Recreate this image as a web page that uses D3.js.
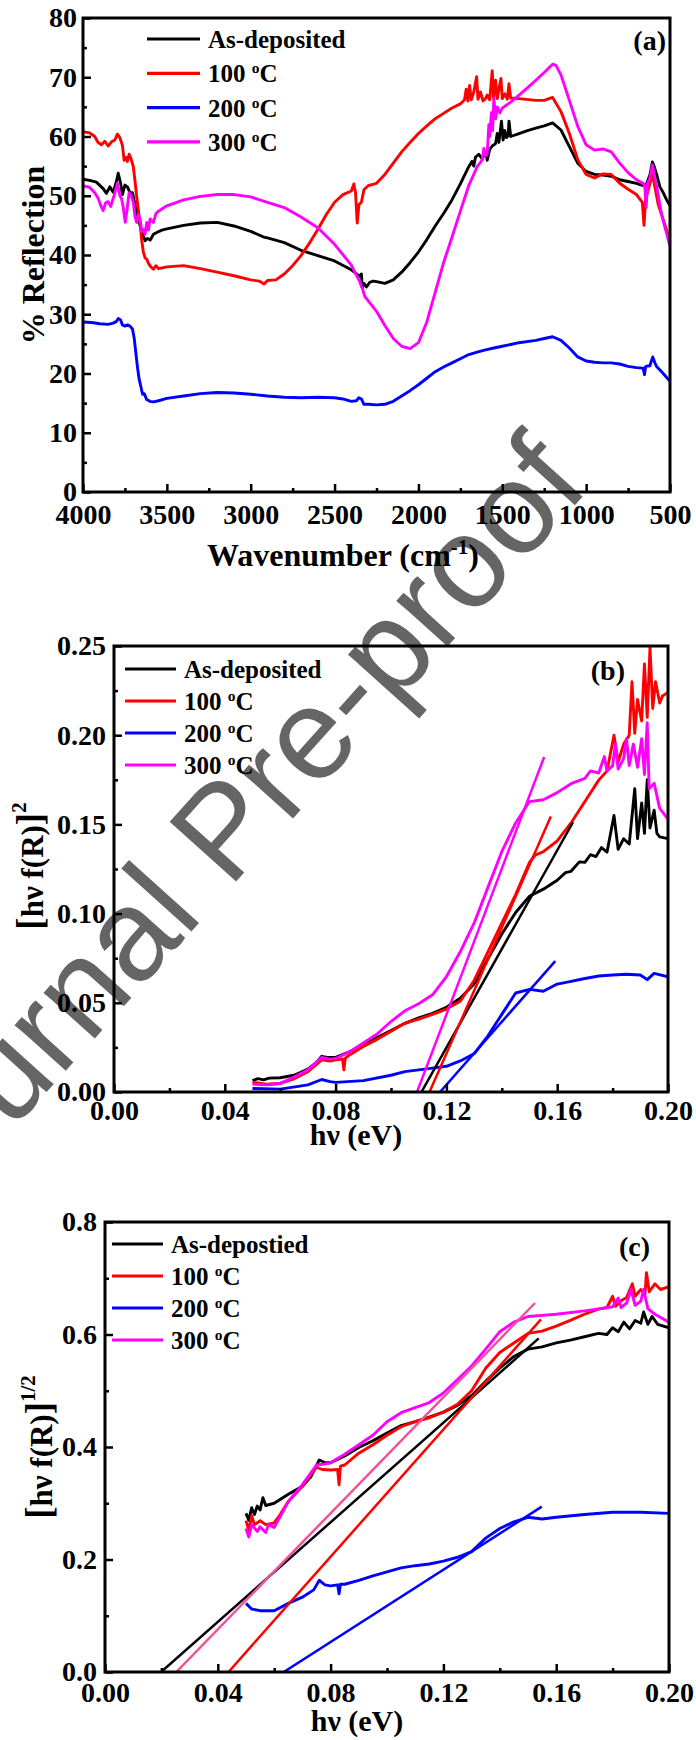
<!DOCTYPE html>
<html>
<head>
<meta charset="utf-8">
<script src="https://cdn.jsdelivr.net/npm/d3@7"></script>
<style>
  html, body { margin: 0; padding: 0; background: #fff; }
  svg { display: block; }
  text { font-family: "Liberation Serif", "Times New Roman", serif; font-weight: bold; fill: #000; }
</style>
</head>
<body>
<svg id="fig" width="696" height="1740"></svg>
<script>
// ---------- Series labels and colours ----------
const legendLabels = ["As-deposited", "100 °C", "200 °C", "300 °C"];
const legendLabelsC = ["As-depostied", "100 °C", "200 °C", "300 °C"];
const seriesColors = ["#000000", "#ff0000", "#0000ff", "#ff00ff"];
const fitColorsC = ["#000000", "#ff0000", "#0000ff", "#f0529c"];

// ---------- Tick values ----------
const xTicksA = [4000, 3500, 3000, 2500, 2000, 1500, 1000, 500];
const yTicksA = [0, 10, 20, 30, 40, 50, 60, 70, 80];
const xTicksBC = [0, 0.04, 0.08, 0.12, 0.16, 0.20];
const yTicksB = [0, 0.05, 0.10, 0.15, 0.20, 0.25];
const yTicksC = [0, 0.2, 0.4, 0.6, 0.8];

// ---------- (a) % Reflection vs wavenumber (cm^-1) ----------
const reflAsDep = [[4000,52.8],[3960,52.6],[3920,52.3],[3880,51.2],[3860,50.4],[3840,51.5],[3820,50.6],[3800,52.5],[3790,53.8],[3775,52.0],[3765,50.2],[3750,51.8],[3735,51.5],[3720,50.5],[3705,50.5],[3690,48.5],[3675,46.5],[3660,45.0],[3645,43.5],[3630,42.4],[3615,42.8],[3600,42.5],[3580,43.5],[3560,43.8],[3530,44.2],[3500,44.4],[3400,45.0],[3300,45.4],[3200,45.5],[3100,44.9],[3000,44.0],[2920,43.0],[2900,42.9],[2800,42.1],[2700,40.8],[2600,39.9],[2500,39.0],[2400,37.5],[2350,36.4],[2340,36.8],[2335,34.5],[2325,35.2],[2310,34.6],[2290,35.4],[2270,35.6],[2250,35.5],[2200,35.2],[2150,35.8],[2100,37.1],[2050,38.7],[2000,40.5],[1950,42.6],[1900,44.9],[1850,47.0],[1800,49.3],[1750,52.0],[1700,54.9],[1680,55.8],[1670,55.0],[1660,56.5],[1640,57.0],[1620,56.2],[1600,57.4],[1590,56.0],[1575,57.8],[1560,58.4],[1540,58.8],[1530,60.5],[1520,59.0],[1505,62.6],[1495,59.4],[1485,61.0],[1475,59.8],[1465,60.2],[1460,62.6],[1450,60.0],[1400,60.5],[1350,61.0],[1300,61.4],[1250,61.8],[1200,62.3],[1150,61.1],[1100,58.3],[1050,55.5],[1000,54.1],[950,53.6],[900,53.5],[850,53.3],[800,52.7],[750,52.4],[700,52.1],[660,51.7],[640,52.0],[620,53.5],[605,55.7],[595,55.0],[580,53.6],[560,51.5],[540,50.5],[520,49.3],[500,48.3]];
const refl100 = [[4000,60.8],[3960,60.6],[3930,60.0],[3910,59.0],[3890,58.6],[3870,59.2],[3850,58.4],[3830,59.1],[3810,59.4],[3795,60.4],[3780,59.8],[3765,58.5],[3755,56.0],[3745,56.5],[3735,55.8],[3725,57.0],[3715,56.4],[3700,54.9],[3690,52.5],[3680,49.9],[3670,47.5],[3660,45.5],[3650,42.5],[3640,40.5],[3630,39.5],[3620,39.3],[3610,38.6],[3595,38.0],[3580,37.6],[3565,38.2],[3550,37.7],[3500,38.0],[3400,38.2],[3300,37.7],[3200,37.1],[3100,36.5],[3000,35.8],[2950,35.6],[2920,35.1],[2900,35.7],[2850,35.8],[2800,36.8],[2750,38.2],[2700,39.9],[2650,42.0],[2600,44.3],[2550,46.8],[2500,48.9],[2450,50.2],[2400,50.8],[2385,52.0],[2375,50.5],[2365,45.4],[2355,48.5],[2340,48.9],[2325,51.0],[2300,51.7],[2250,52.1],[2200,53.6],[2150,55.5],[2100,57.4],[2050,59.0],[2000,60.5],[1950,61.8],[1900,63.0],[1850,63.9],[1800,64.8],[1750,65.5],[1725,66.2],[1715,68.0],[1705,66.0],[1695,68.6],[1685,66.2],[1670,67.5],[1653,70.1],[1645,66.3],[1630,67.5],[1615,66.0],[1600,66.4],[1590,67.0],[1575,66.2],[1560,71.1],[1552,66.5],[1540,69.5],[1530,66.4],[1518,68.3],[1508,69.8],[1500,66.4],[1485,67.2],[1470,66.3],[1460,68.9],[1450,66.5],[1400,66.4],[1300,66.1],[1250,66.1],[1200,66.6],[1150,64.2],[1100,60.5],[1050,56.1],[1000,53.6],[950,53.0],[900,53.7],[850,53.6],[800,52.1],[750,51.1],[700,50.2],[665,48.9],[655,45.0],[645,49.5],[625,51.5],[605,53.6],[590,51.5],[570,48.5],[550,46.8],[500,42.4]];
const refl200 = [[4000,28.7],[3950,28.6],[3900,28.4],[3850,28.3],[3820,28.5],[3800,28.8],[3790,29.3],[3775,29.0],[3765,28.2],[3750,28.0],[3735,28.2],[3720,28.0],[3705,27.5],[3695,26.0],[3685,23.5],[3675,21.0],[3665,19.0],[3655,17.8],[3645,16.5],[3635,16.6],[3620,15.6],[3600,15.3],[3580,15.2],[3550,15.4],[3500,15.8],[3400,16.2],[3300,16.6],[3200,16.8],[3100,16.7],[3000,16.5],[2900,16.2],[2800,16.0],[2700,15.9],[2600,16.0],[2500,15.9],[2450,15.7],[2400,15.3],[2370,15.4],[2355,15.9],[2340,15.7],[2325,14.8],[2300,14.8],[2250,14.7],[2200,14.8],[2150,15.3],[2100,16.2],[2050,17.1],[2000,18.1],[1950,19.2],[1900,20.3],[1850,21.1],[1800,21.8],[1750,22.5],[1700,23.2],[1650,23.6],[1600,24.0],[1550,24.3],[1500,24.6],[1450,24.9],[1400,25.2],[1300,25.6],[1250,25.9],[1200,26.2],[1150,25.6],[1100,24.3],[1050,22.8],[1000,22.1],[950,21.9],[900,21.8],[850,21.8],[800,21.6],[750,21.2],[700,21.0],[660,20.9],[652,19.8],[645,21.2],[620,21.3],[603,22.8],[590,21.8],[580,21.2],[550,20.3],[500,18.7]];
const refl300 = [[4000,51.7],[3960,51.4],[3930,50.5],[3910,49.6],[3895,48.4],[3880,47.5],[3865,48.8],[3850,49.0],[3835,48.2],[3815,50.0],[3795,52.1],[3780,50.0],[3770,49.5],[3760,48.0],[3748,45.5],[3738,47.5],[3725,50.5],[3712,50.0],[3700,48.9],[3690,46.5],[3680,45.5],[3670,46.8],[3660,46.1],[3650,44.0],[3640,44.3],[3630,43.5],[3620,45.5],[3610,44.2],[3600,46.1],[3580,45.5],[3565,47.0],[3550,47.4],[3500,48.3],[3400,49.3],[3300,49.9],[3200,50.2],[3100,50.2],[3000,49.8],[2900,48.9],[2800,48.0],[2700,46.4],[2600,44.6],[2500,41.8],[2400,38.3],[2350,35.5],[2330,34.0],[2320,33.0],[2300,32.3],[2250,30.5],[2200,28.1],[2150,25.9],[2100,24.6],[2050,24.2],[2000,25.2],[1950,28.7],[1900,33.7],[1850,38.7],[1800,43.0],[1750,47.4],[1700,51.7],[1650,54.9],[1620,56.0],[1610,58.0],[1600,56.7],[1590,57.0],[1580,62.0],[1575,60.0],[1565,64.0],[1558,61.0],[1550,66.5],[1540,63.0],[1530,65.0],[1515,64.0],[1500,64.8],[1480,65.2],[1450,65.8],[1400,67.0],[1350,68.2],[1300,69.5],[1250,70.8],[1200,72.2],[1180,72.0],[1150,70.4],[1100,66.1],[1050,61.7],[1000,58.6],[950,57.7],[900,57.9],[850,57.4],[800,55.5],[750,53.9],[700,52.7],[660,52.1],[650,51.5],[642,48.0],[635,52.0],[620,53.0],[605,55.2],[590,53.0],[580,51.7],[550,46.8],[500,41.5]];

// ---------- (b) [hv f(R)]^2 vs hv (eV) ----------
const sqAsDep = [[0.050,0.0064],[0.052,0.0075],[0.054,0.0068],[0.056,0.0078],[0.060,0.0080],[0.065,0.0094],[0.070,0.0128],[0.073,0.0164],[0.075,0.0200],[0.077,0.0194],[0.080,0.0194],[0.085,0.0225],[0.090,0.0265],[0.095,0.0305],[0.100,0.0345],[0.105,0.0385],[0.110,0.0415],[0.115,0.0441],[0.120,0.0475],[0.125,0.0525],[0.130,0.0605],[0.135,0.0746],[0.140,0.0886],[0.145,0.1006],[0.150,0.1097],[0.155,0.1137],[0.160,0.1187],[0.163,0.1230],[0.165,0.1237],[0.168,0.1290],[0.170,0.1287],[0.172,0.1330],[0.174,0.1320],[0.176,0.1370],[0.178,0.1345],[0.1805,0.1550],[0.182,0.1360],[0.184,0.1420],[0.186,0.1390],[0.188,0.1700],[0.189,0.1420],[0.1905,0.1620],[0.1915,0.1450],[0.1925,0.1750],[0.1935,0.1480],[0.195,0.1580],[0.196,0.1450],[0.197,0.1430],[0.200,0.1420]];
const sq100 = [[0.050,0.0054],[0.055,0.0044],[0.060,0.0048],[0.065,0.0074],[0.070,0.0114],[0.075,0.0180],[0.078,0.0174],[0.080,0.0180],[0.0825,0.0185],[0.083,0.0124],[0.0835,0.0190],[0.085,0.0208],[0.090,0.0255],[0.095,0.0295],[0.100,0.0341],[0.105,0.0385],[0.110,0.0409],[0.115,0.0435],[0.120,0.0465],[0.125,0.0509],[0.130,0.0625],[0.135,0.0786],[0.140,0.0946],[0.145,0.1107],[0.150,0.1287],[0.152,0.1327],[0.155,0.1347],[0.160,0.1407],[0.165,0.1508],[0.170,0.1628],[0.175,0.1748],[0.178,0.1800],[0.1805,0.2000],[0.182,0.1850],[0.184,0.1950],[0.186,0.2000],[0.187,0.2300],[0.188,0.2010],[0.189,0.2200],[0.1905,0.2080],[0.1915,0.2400],[0.1925,0.2100],[0.1935,0.2490],[0.1945,0.2150],[0.1955,0.2300],[0.197,0.2180],[0.198,0.2220],[0.200,0.2240]];
const sq200 = [[0.050,0.0020],[0.060,0.0016],[0.070,0.0040],[0.075,0.0070],[0.078,0.0058],[0.080,0.0054],[0.090,0.0064],[0.100,0.0094],[0.105,0.0114],[0.110,0.0124],[0.115,0.0134],[0.120,0.0144],[0.125,0.0174],[0.130,0.0214],[0.135,0.0315],[0.140,0.0435],[0.145,0.0555],[0.150,0.0575],[0.155,0.0565],[0.160,0.0605],[0.165,0.0620],[0.170,0.0636],[0.175,0.0650],[0.180,0.0656],[0.185,0.0660],[0.190,0.0656],[0.1925,0.0630],[0.195,0.0665],[0.200,0.0646]];
const sq300 = [[0.050,0.0044],[0.055,0.0040],[0.060,0.0048],[0.065,0.0084],[0.070,0.0124],[0.075,0.0194],[0.078,0.0184],[0.080,0.0188],[0.085,0.0225],[0.090,0.0275],[0.095,0.0325],[0.100,0.0395],[0.105,0.0455],[0.110,0.0495],[0.115,0.0545],[0.120,0.0646],[0.125,0.0786],[0.130,0.0946],[0.135,0.1147],[0.140,0.1347],[0.145,0.1508],[0.150,0.1628],[0.155,0.1638],[0.160,0.1678],[0.165,0.1728],[0.170,0.1758],[0.172,0.1800],[0.175,0.1788],[0.177,0.1880],[0.178,0.1800],[0.180,0.1828],[0.181,0.1950],[0.182,0.1810],[0.184,0.1870],[0.185,0.1980],[0.186,0.1830],[0.1875,0.1950],[0.189,0.1820],[0.1905,0.1980],[0.1915,0.1780],[0.1925,0.2070],[0.1932,0.1700],[0.195,0.1730],[0.197,0.1590],[0.200,0.1530]];
// Linear extrapolations to the hv axis (direct gap)
const sqFitAsDep = [[0.1110,0],[0.1657,0.1512]];
const sqFit100 = [[0.1139,0],[0.1577,0.1544]];
const sqFit200 = [[0.1177,0],[0.1593,0.0734]];
const sqFit300 = [[0.1094,0],[0.1553,0.1878]];

// ---------- (c) [hv f(R)]^(1/2) vs hv (eV) ----------
const rtAsDep = [[0.050,0.282],[0.051,0.270],[0.052,0.292],[0.053,0.280],[0.054,0.295],[0.055,0.288],[0.056,0.310],[0.057,0.296],[0.060,0.300],[0.065,0.316],[0.070,0.330],[0.073,0.347],[0.076,0.377],[0.078,0.372],[0.080,0.372],[0.085,0.384],[0.090,0.399],[0.095,0.411],[0.100,0.425],[0.105,0.438],[0.110,0.445],[0.115,0.453],[0.120,0.462],[0.125,0.474],[0.130,0.491],[0.135,0.517],[0.140,0.540],[0.145,0.561],[0.150,0.574],[0.155,0.578],[0.160,0.585],[0.165,0.590],[0.170,0.596],[0.175,0.602],[0.178,0.600],[0.180,0.612],[0.182,0.605],[0.184,0.622],[0.186,0.610],[0.188,0.625],[0.190,0.620],[0.191,0.640],[0.1925,0.618],[0.194,0.632],[0.196,0.618],[0.200,0.612]];
const rt100 = [[0.050,0.269],[0.051,0.252],[0.052,0.278],[0.053,0.262],[0.055,0.269],[0.057,0.262],[0.060,0.265],[0.062,0.279],[0.065,0.303],[0.070,0.330],[0.075,0.364],[0.077,0.360],[0.080,0.359],[0.0825,0.360],[0.083,0.333],[0.0835,0.366],[0.085,0.368],[0.090,0.389],[0.095,0.404],[0.100,0.421],[0.105,0.436],[0.110,0.445],[0.115,0.452],[0.120,0.462],[0.125,0.476],[0.130,0.500],[0.135,0.540],[0.140,0.568],[0.145,0.585],[0.150,0.602],[0.155,0.606],[0.160,0.615],[0.165,0.625],[0.170,0.636],[0.175,0.645],[0.178,0.648],[0.180,0.668],[0.181,0.650],[0.183,0.660],[0.185,0.666],[0.187,0.690],[0.188,0.668],[0.190,0.680],[0.1915,0.672],[0.192,0.710],[0.193,0.676],[0.195,0.690],[0.197,0.680],[0.200,0.685]];
const rt200 = [[0.050,0.122],[0.052,0.112],[0.055,0.109],[0.060,0.109],[0.065,0.122],[0.070,0.133],[0.074,0.146],[0.076,0.163],[0.078,0.155],[0.080,0.153],[0.0825,0.155],[0.083,0.139],[0.0835,0.156],[0.085,0.156],[0.090,0.163],[0.095,0.171],[0.100,0.178],[0.105,0.185],[0.110,0.189],[0.115,0.192],[0.120,0.197],[0.125,0.204],[0.130,0.214],[0.135,0.238],[0.140,0.255],[0.145,0.267],[0.150,0.275],[0.155,0.272],[0.160,0.275],[0.170,0.280],[0.180,0.284],[0.190,0.284],[0.200,0.282]];
const rt300 = [[0.050,0.255],[0.051,0.240],[0.052,0.262],[0.054,0.250],[0.055,0.258],[0.057,0.248],[0.058,0.262],[0.060,0.257],[0.062,0.275],[0.065,0.303],[0.070,0.333],[0.075,0.368],[0.078,0.370],[0.080,0.372],[0.085,0.387],[0.090,0.404],[0.095,0.421],[0.100,0.445],[0.105,0.461],[0.110,0.470],[0.115,0.479],[0.120,0.496],[0.125,0.520],[0.130,0.544],[0.135,0.574],[0.140,0.605],[0.145,0.622],[0.150,0.632],[0.155,0.634],[0.160,0.636],[0.170,0.642],[0.180,0.649],[0.182,0.665],[0.183,0.648],[0.185,0.656],[0.1865,0.680],[0.188,0.652],[0.190,0.659],[0.191,0.680],[0.1925,0.646],[0.195,0.636],[0.200,0.622]];
// Linear extrapolations to the hv axis (indirect gap)
const rtFitAsDep = [[0.0199,0],[0.1538,0.593]];
const rtFit100 = [[0.0438,0],[0.1546,0.627]];
const rtFit200 = [[0.0634,0],[0.1549,0.294]];
const rtFit300 = [[0.0253,0],[0.1525,0.656]];

// ---------- drawing ----------
const svg = d3.select("#fig");
const TICK_FONT = 28, LEGEND_FONT = 25, TITLE_FONT = 32;

// "100 °C" style labels: the degree mark is a raised small "o"
function writeLabel(sel, label, size) {
  const m = label.match(/^(\d+) °C$/);
  if (!m) { sel.text(label); return; }
  const up = size * 0.36;
  sel.append("tspan").text(m[1] + " ");
  sel.append("tspan").attr("font-size", size * 0.62).attr("dy", -up).text("o");
  sel.append("tspan").attr("dy", up).text("C");
}

function minorBetween(ticks) {
  const out = [];
  for (let i = 0; i < ticks.length - 1; i++) out.push((ticks[i] + ticks[i + 1]) / 2);
  return out;
}

function drawPanel(p) {
  const g = svg.append("g");
  const x = d3.scaleLinear().domain(p.xDomain).range([p.x0, p.x1]);
  const y = d3.scaleLinear().domain(p.yDomain).range([p.y1, p.y0]);

  const clipId = "clip-" + p.key;
  svg.append("clipPath").attr("id", clipId).append("rect")
    .attr("x", p.x0).attr("y", p.y0).attr("width", p.x1 - p.x0).attr("height", p.y1 - p.y0);

  const line = d3.line().x(d => x(d[0])).y(d => y(d[1]));
  const plot = g.append("g").attr("clip-path", `url(#${clipId})`);

  p.series.forEach((s, i) => {
    plot.append("path").datum(s).attr("d", line)
      .attr("fill", "none").attr("stroke", seriesColors[i])
      .attr("stroke-width", 2.9).attr("stroke-linejoin", "round");
  });
  if (p.fits) {
    p.fits.forEach((s, i) => {
      plot.append("path").datum(s).attr("d", line)
        .attr("fill", "none").attr("stroke", p.fitColors[i])
        .attr("stroke-width", 2.5);
    });
  }

  // axes: inward ticks on bottom and left
  g.append("g").attr("transform", `translate(0,${p.y1})`)
    .call(d3.axisBottom(x).tickValues(p.xTicks).tickSize(-8).tickPadding(p.xPad).tickFormat(p.xFmt));
  g.append("g").attr("transform", `translate(0,${p.y1})`)
    .call(d3.axisBottom(x).tickValues(minorBetween(p.xTicks)).tickSize(-4).tickFormat(""));
  g.append("g").attr("transform", `translate(${p.x0},0)`)
    .call(d3.axisLeft(y).tickValues(p.yTicks).tickSize(-8).tickPadding(p.yPad).tickFormat(p.yFmt));
  g.append("g").attr("transform", `translate(${p.x0},0)`)
    .call(d3.axisLeft(y).tickValues(minorBetween(p.yTicks)).tickSize(-4).tickFormat(""));

  g.selectAll(".domain").remove();
  g.selectAll(".tick line").attr("stroke", "#000").attr("stroke-width", 2.5);
  g.selectAll(".tick text").attr("font-size", TICK_FONT)
    .style("font-family", '"Liberation Serif", serif').style("font-weight", "bold").attr("fill", "#000");

  // frame
  g.append("rect").attr("x", p.x0).attr("y", p.y0)
    .attr("width", p.x1 - p.x0).attr("height", p.y1 - p.y0)
    .attr("fill", "none").attr("stroke", "#000").attr("stroke-width", 3);

  // legend
  p.legendLabels.forEach((lab, i) => {
    const ly = p.legY + i * p.legStep;
    g.append("line").attr("x1", p.legX).attr("x2", p.legX + p.legLen)
      .attr("y1", ly).attr("y2", ly).attr("stroke", seriesColors[i]).attr("stroke-width", 3.2);
    const t = g.append("text").attr("x", p.legX + p.legLen + 8).attr("y", ly + 9)
      .attr("font-size", LEGEND_FONT);
    writeLabel(t, lab, LEGEND_FONT);
  });

  // panel letter
  g.append("text").attr("x", p.tagX).attr("y", p.tagY).attr("text-anchor", "end")
    .attr("font-size", 28).text(p.tag);

  return g;
}

// (a)
const gA = drawPanel({
  key: "a", x0: 83, x1: 670, y0: 18, y1: 492,
  xDomain: [4000, 500], yDomain: [0, 80],
  xTicks: xTicksA, yTicks: yTicksA, xPad: 12, yPad: 6,
  xFmt: d3.format("d"), yFmt: d3.format("d"),
  series: [reflAsDep, refl100, refl200, refl300],
  legendLabels: legendLabels, legX: 147, legLen: 53, legY: 39, legStep: 34.3,
  tag: "(a)", tagX: 666, tagY: 50
});
gA.append("text").attr("x", 343).attr("y", 566).attr("text-anchor", "middle")
  .attr("font-size", TITLE_FONT)
  .call(t => {
    t.append("tspan").text("Wavenumber (cm");
    t.append("tspan").attr("font-size", 21).attr("dy", -12).text("-1");
    t.append("tspan").attr("dy", 12).text(")");
  });
gA.append("text").attr("transform", "translate(44,255) rotate(-90)").attr("text-anchor", "middle")
  .attr("font-size", TITLE_FONT).text("% Reflection");

// (b)
const gB = drawPanel({
  key: "b", x0: 114, x1: 668, y0: 646, y1: 1092,
  xDomain: [0, 0.20], yDomain: [0, 0.25],
  xTicks: xTicksBC, yTicks: yTicksB, xPad: 8, yPad: 8,
  xFmt: d3.format(".2f"), yFmt: d3.format(".2f"),
  series: [sqAsDep, sq100, sq200, sq300],
  fits: [sqFitAsDep, sqFit100, sqFit200, sqFit300], fitColors: seriesColors,
  legendLabels: legendLabels, legX: 125, legLen: 51, legY: 669, legStep: 32,
  tag: "(b)", tagX: 625, tagY: 680
});
gB.append("text").attr("x", 356).attr("y", 1145).attr("text-anchor", "middle")
  .attr("font-size", 30).text("hν (eV)");
gB.append("text").attr("transform", "translate(43,866) rotate(-90)").attr("text-anchor", "middle")
  .attr("font-size", 31)
  .call(t => {
    t.append("tspan").attr("font-size", 37).text("[");
    t.append("tspan").text("hν f(R)");
    t.append("tspan").attr("font-size", 37).text("]");
    t.append("tspan").attr("font-size", 21).attr("dy", -17).text("2");
  });

// (c)
const gC = drawPanel({
  key: "c", x0: 105, x1: 669, y0: 1222, y1: 1672,
  xDomain: [0, 0.20], yDomain: [0, 0.8],
  xTicks: xTicksBC, yTicks: yTicksC, xPad: 10, yPad: 8,
  xFmt: d3.format(".2f"), yFmt: d3.format(".1f"),
  series: [rtAsDep, rt100, rt200, rt300],
  fits: [rtFitAsDep, rtFit100, rtFit200, rtFit300], fitColors: fitColorsC,
  legendLabels: legendLabelsC, legX: 112, legLen: 51, legY: 1244, legStep: 32,
  tag: "(c)", tagX: 650, tagY: 1256
});
gC.append("text").attr("x", 357).attr("y", 1731).attr("text-anchor", "middle")
  .attr("font-size", 30).text("hν (eV)");
gC.append("text").attr("transform", "translate(52,1447) rotate(-90)").attr("text-anchor", "middle")
  .attr("font-size", 31)
  .call(t => {
    t.append("tspan").attr("font-size", 37).text("[");
    t.append("tspan").text("hν f(R)");
    t.append("tspan").attr("font-size", 37).text("]");
    t.append("tspan").attr("font-size", 21).attr("dy", -17).text("1/2");
  });

// diagonal status stamp across the page
svg.append("text")
  .attr("transform", "translate(222,830) rotate(-48)")
  .attr("text-anchor", "middle").attr("dominant-baseline", "central")
  .style("font-family", '"Liberation Sans", Arial, sans-serif').style("font-weight", "normal")
  .attr("font-size", 130).attr("fill", "#aaaaaa").attr("opacity", 0.6)
  .text("Journal Pre-proof");
</script>
</body>
</html>
